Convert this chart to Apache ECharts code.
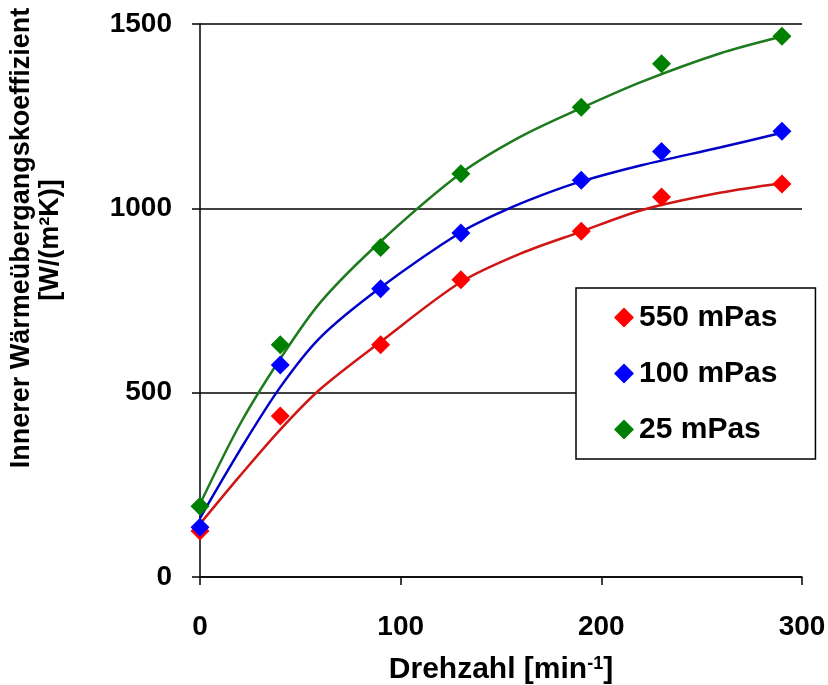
<!DOCTYPE html>
<html>
<head>
<meta charset="utf-8">
<script src="https://cdn.jsdelivr.net/npm/echarts@6/dist/echarts.min.js"></script>
<style>
html,body{margin:0;padding:0;background:#fff;}
#chart{width:828px;height:685px;}
</style>
</head>
<body>
<div id="chart"></div>
<script>
// ---- data ----
const seriesNames = ['550 mPas', '100 mPas', '25 mPas'];
const pointX = [0, 40, 90, 130, 190, 230, 290];
const points550 = [125, 437, 630, 806, 938, 1031, 1066];
const points100 = [135, 575, 782, 933, 1076, 1154, 1209];
const points25  = [192, 630, 894, 1094, 1274, 1392, 1467];

// trend curves, values
const trend550X = [0, 20, 40, 60, 90, 130, 160, 190, 220, 259, 290];
const trend550Y = [144, 275, 400, 510, 638, 800, 878, 937, 995, 1042, 1068];
const trend100X = [0, 20, 40, 60, 90, 130, 150, 170, 190, 220, 259, 290];
const trend100Y = [160, 345, 515, 650, 785, 935, 990, 1035, 1073, 1117, 1165, 1205];
const trend25X = [0, 20, 40, 60, 90, 130, 160, 190, 220, 259, 290];
const trend25Y = [198, 415, 592, 745, 910, 1095, 1195, 1272, 1343, 1420, 1466];

const xTicks = [0, 100, 200, 300];
const yTicks = [0, 500, 1000, 1500];

const pointColors = ['#ff0000', '#0000ff', '#008000'];
const lineColors = ['#d01515', '#0000c8', '#1d7a1d'];

function pairs(xs, ys) { return xs.map((x, i) => [x, ys[i]]); }

const FONT = '"Liberation Sans", Arial, sans-serif';
const chart = echarts.init(document.getElementById('chart'), null, { renderer: 'canvas' });

const pointSets = [points550, points100, points25];
const trendSets = [[trend550X, trend550Y], [trend100X, trend100Y], [trend25X, trend25Y]];

const series = [];
trendSets.forEach((t, i) => {
  series.push({
    name: 'Trend ' + seriesNames[i],
    type: 'line',
    data: pairs(t[0], t[1]),
    smooth: 0.3,
    showSymbol: false,
    symbol: 'none',
    lineStyle: { color: lineColors[i], width: 2.5 },
    z: 2,
    silent: true
  });
});
pointSets.forEach((p, i) => {
  series.push({
    name: seriesNames[i],
    type: 'scatter',
    data: pairs(pointX, p),
    symbol: 'diamond',
    symbolSize: 19,
    itemStyle: { color: pointColors[i], opacity: 1 },
    z: 3
  });
});

const option = {
  backgroundColor: '#ffffff',
  animation: false,
  grid: { left: 200, right: 26, top: 24, bottom: 108, containLabel: false, outerBoundsMode: 'none' },
  xAxis: {
    type: 'value', min: 0, max: 300, interval: 100,
    name: 'Drehzahl [min{sup|-1}]',
    nameLocation: 'middle', nameGap: 78,
    nameTextStyle: {
      fontFamily: FONT, fontSize: 30, fontWeight: 'bold', color: '#000',
      rich: { sup: { fontFamily: FONT, fontSize: 18, fontWeight: 'bold', color: '#000', verticalAlign: 'top', padding: [0, 0, 12, 0] } }
    },
    axisLine: { show: true, lineStyle: { color: '#000', width: 1.5 } },
    axisTick: { show: true, inside: false, length: 8, lineStyle: { color: '#000', width: 1.5 } },
    axisLabel: { margin: 36, fontFamily: FONT, fontSize: 28, fontWeight: 'bold', color: '#000',
      formatter: v => xTicks.includes(v) ? String(v) : '' },
    splitLine: { show: false }
  },
  yAxis: {
    type: 'value', min: 0, max: 1500, interval: 500,
    axisLine: { show: true, lineStyle: { color: '#000', width: 1.5 } },
    axisTick: { show: true, inside: false, length: 8, lineStyle: { color: '#000', width: 1.5 } },
    axisLabel: { margin: 28, fontFamily: FONT, fontSize: 28, fontWeight: 'bold', color: '#000',
      formatter: v => yTicks.includes(v) ? String(v) : '' },
    splitLine: { show: true, lineStyle: { color: '#000', width: 1.5 } }
  },
  legend: {
    data: seriesNames,
    orient: 'vertical',
    left: 576, top: 288,
    padding: [14, 38, 14, 38],
    itemGap: 25,
    itemWidth: 20, itemHeight: 20,
    icon: 'diamond',
    backgroundColor: '#ffffff',
    borderColor: '#000', borderWidth: 1.5, borderRadius: 0,
    textStyle: { fontFamily: FONT, fontSize: 30, fontWeight: 'bold', color: '#000', lineHeight: 31 },
    selectedMode: false
  },
  graphic: [
    {
      type: 'text', x: 22, y: 238, rotation: Math.PI / 2,
      style: { text: 'Innerer Wärmeübergangskoeffizient', fontFamily: FONT, fontSize: 27, fontWeight: 'bold',
        fill: '#000', align: 'center', verticalAlign: 'middle' }
    },
    {
      type: 'text', x: 51, y: 240, rotation: Math.PI / 2,
      style: { text: '[W/(m²K)]', fontFamily: FONT, fontSize: 27, fontWeight: 'bold',
        fill: '#000', align: 'center', verticalAlign: 'middle' }
    }
  ],
  series: series
};
chart.setOption(option);
</script>
</body>
</html>
